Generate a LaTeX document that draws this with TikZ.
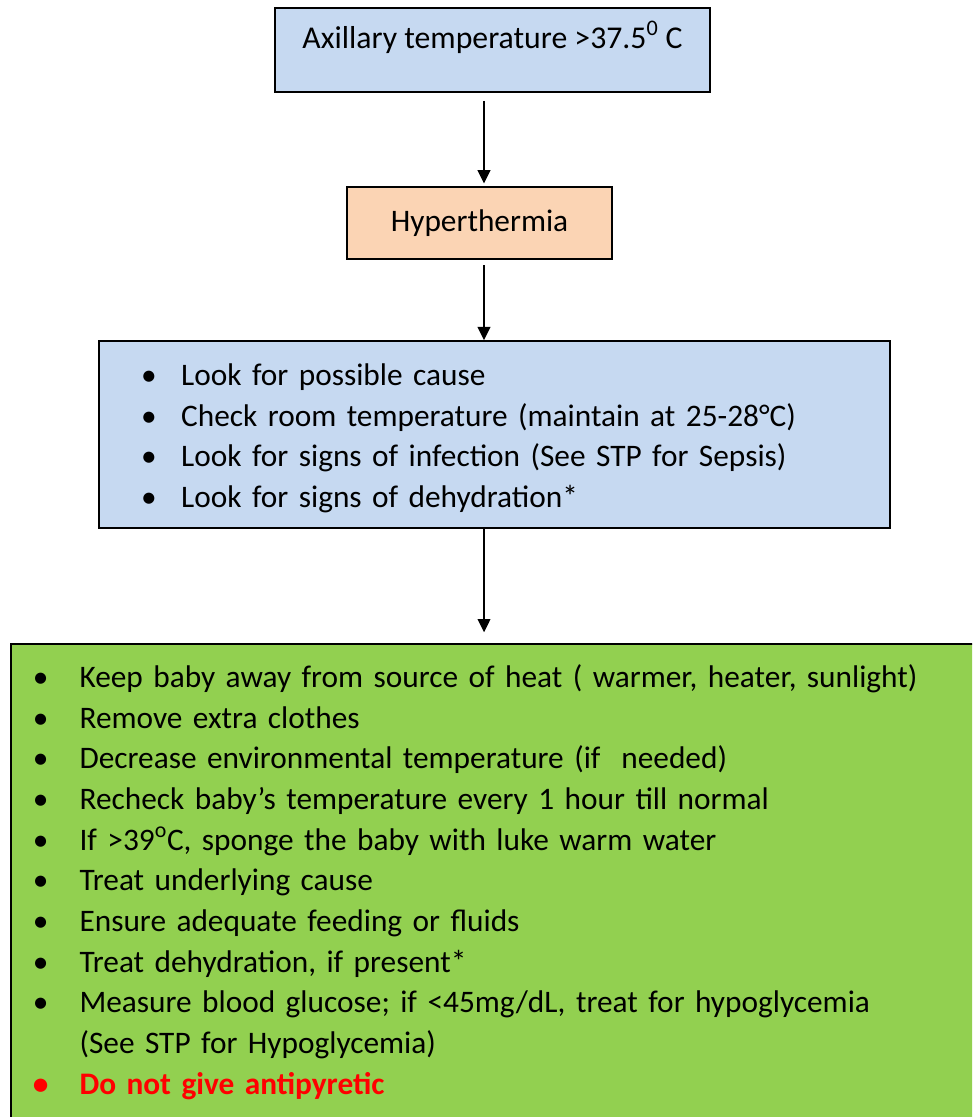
\documentclass[tikz,border=0pt]{standalone}
\usepackage{fontspec}
\setmainfont{Carlito}
\usetikzlibrary{arrows.meta}
\definecolor{boxblue}{HTML}{C6D9F1}
\definecolor{boxpeach}{HTML}{FBD4B4}
\definecolor{boxgreen}{HTML}{92D050}
\newlength{\bltw}
\newcommand{\itm}[1]{\makebox[\bltw][l]{\textbullet}#1}

\tikzset{
	box/.style={draw=black, line width=1.3pt, inner sep=0pt,
		font=\fontsize{23.5}{30.5}\selectfont},
	flow/.style={->, line width=1.5pt, >={Triangle[length=10pt,width=9.5pt]}},
}

\begin{document}
\begin{tikzpicture}[x=0.75pt,y=-0.75pt]
	\useasboundingbox (0,0) rectangle (972,1117);
	\clip (0,0) rectangle (972,1117);
	% boxes
	\node[box, fill=boxblue, minimum width=326pt, minimum height=63pt,
		font=\fontsize{23.8}{30.5}\selectfont,
		text height=17pt, text depth=20pt] (axil) at (492.5,50)
		{Axillary temperature >37.5\textsuperscript{0} C};
	\node[box, fill=boxpeach, minimum width=199pt, minimum height=54pt] (hyper) at (479.5,223)
		{Hyperthermia};
	\node[box, fill=boxblue, minimum width=593pt, minimum height=140pt,
		inner xsep=31.5pt, text width=530pt, align=left] (look) at (494.5,434.5)
		{\setlength{\bltw}{30pt}%
		\rule{0pt}{1.95ex}\itm{Look for possible cause}\\
		\itm{Check room temperature (maintain at 25-28°C)}\\
		\itm{Look for signs of infection (See STP for Sepsis)}\\
		\itm{Look for signs of dehydration*}};
	\node[box, fill=boxgreen, anchor=north west, minimum height=357pt,
		inner xsep=16.5pt, text width=705pt, align=left] (manage) at (10,643)
		{\setlength{\bltw}{35pt}%
		\itm{Keep baby away from source of heat ( warmer, heater, sunlight)}\\
		\itm{Remove extra clothes}\\
		\itm{Decrease environmental temperature (if~ needed)}\\
		\itm{Recheck baby’s temperature every 1 hour till normal}\\
		\itm{If >39\textsuperscript{o}C, sponge the baby with luke warm water}\\
		\itm{Treat underlying cause}\\
		\itm{Ensure adequate feeding or fluids}\\
		\itm{Treat dehydration, if present*}\\
		\itm{Measure blood glucose; if <45mg/dL, treat for hypoglycemia}\\
		\hspace*{\bltw}(See STP for Hypoglycemia)\\
		\textcolor{red}{\bfseries\itm{Do not give antipyretic}}};
	% arrows
	\coordinate (spine) at (484,0);
	\draw[flow, shorten <=6pt, shorten >=2pt] (axil.south -| spine) -- (hyper.north -| spine);
	\draw[flow, shorten <=4pt] (hyper.south -| spine) -- (look.north -| spine);
	\draw[flow, shorten >=8pt] (look.south -| spine) -- (manage.north -| spine);
\end{tikzpicture}
\end{document}
